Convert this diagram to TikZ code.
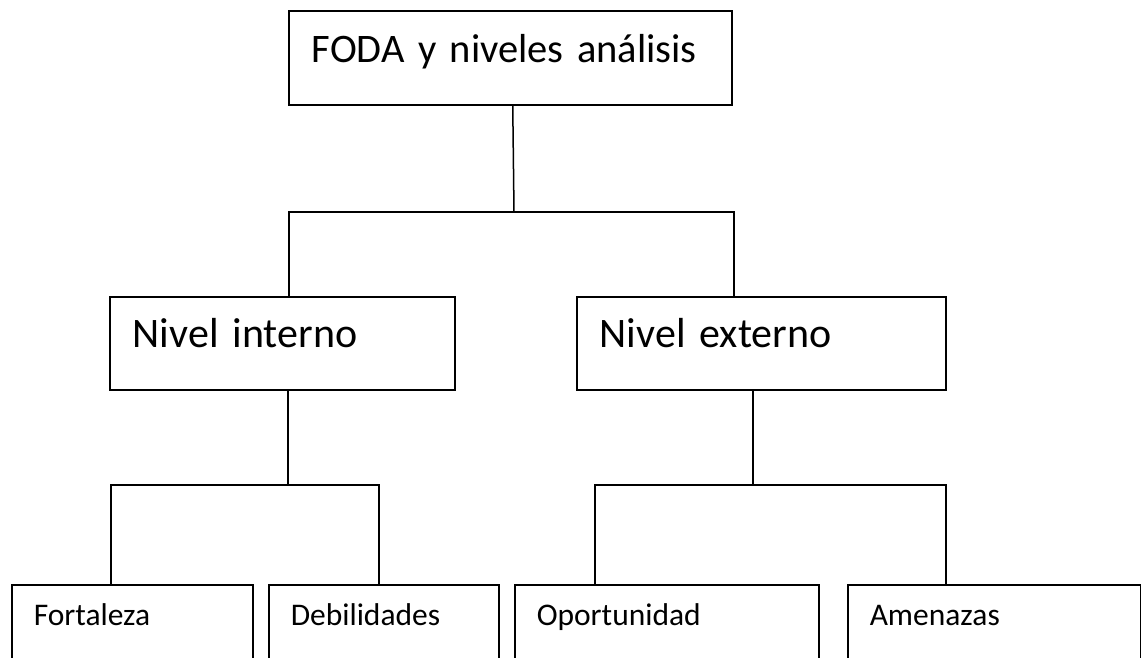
\documentclass[tikz,border=0pt]{standalone}
\usepackage{fontspec}
\setmainfont{Carlito}
\usepackage{tikz}

\tikzset{
    caja/.style={draw, line width=1.5pt, anchor=north west, align=left, inner ysep=0pt},
    cajagrande/.style={caja, inner xsep=23pt, text height=51pt, text depth=42pt, font=\fontsize{42}{50}\selectfont},
    cajachica/.style={caja, inner xsep=22pt, text height=41pt, text depth=90pt, font=\fontsize{31.5}{38}\selectfont},
    linea/.style={line width=1.5pt}
}

\begin{document}
\begin{tikzpicture}[x=1pt, y=-1pt]
    \useasboundingbox (0,0) rectangle (1141,657);
    \clip (0,0) rectangle (1141,657);
    % cajas
    \node[cajagrande, text width=397pt, text height=52pt, font=\fontsize{40.5}{48}\selectfont] (foda) at (288,10) {\mbox{FODA y niveles análisis}};
    \node[cajagrande, text width=299pt] (interno) at (109,296) {Nivel interno};
    \node[cajagrande, text width=323pt] (externo) at (576,296) {Nivel externo};
    \node[cajachica, text width=197pt] (fortaleza) at (11,584) {Fortaleza};
    \node[cajachica, text width=186pt] (debilidades) at (268,584) {Debilidades};
    \node[cajachica, text width=260pt] (oportunidad) at (514,584) {Oportunidad};
    \node[cajachica, text width=249pt] (amenazas) at (847,584) {Amenazas};
    % puntos de reparto
    \coordinate (r0) at (514,212);
    \coordinate (r1) at (288,485);
    \coordinate (r2) at (753,485);
    \draw[linea] ([xshift=2.5pt]foda.south) -- (r0);
    \draw[linea] ([xshift=6.5pt]interno.north) |- (r0) -| ([xshift=-27.5pt]externo.north);
    \draw[linea] (interno.south -| r1) -- (r1);
    \draw[linea] ([xshift=-21.5pt]fortaleza.north) |- (r1) -| ([xshift=-5pt]debilidades.north);
    \draw[linea] (externo.south -| r2) -- (r2);
    \draw[linea] ([xshift=-72pt]oportunidad.north) |- (r2) -| ([xshift=-48.5pt]amenazas.north);
\end{tikzpicture}
\end{document}
